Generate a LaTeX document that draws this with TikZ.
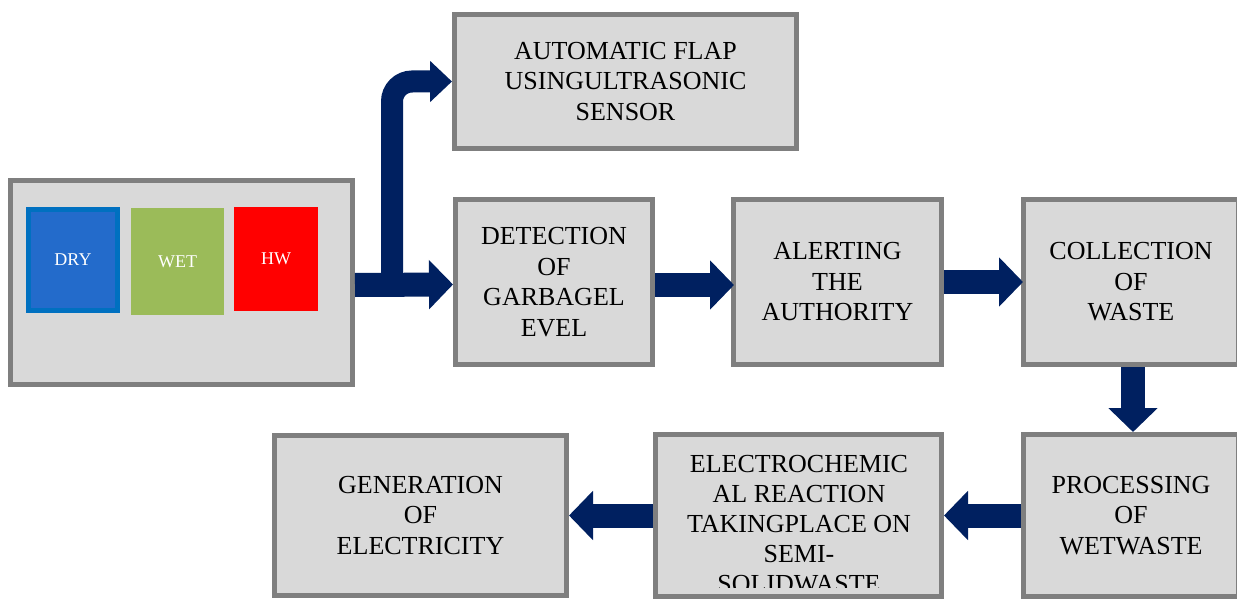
\documentclass[tikz,border=0pt]{standalone}
\usepackage{fontspec}
\setmainfont{Liberation Serif}
\usetikzlibrary{arrows.meta}
\definecolor{navy}{HTML}{002060}
\definecolor{boxgray}{HTML}{7F7F7F}
\definecolor{boxfill}{HTML}{D9D9D9}
\definecolor{dryblue}{HTML}{236BCB}
\definecolor{dryedge}{HTML}{0070C0}
\definecolor{wetgreen}{HTML}{9BBB59}
\begin{document}
\begin{tikzpicture}[x=1pt,y=-1pt,
  box/.style={draw=boxgray,fill=boxfill,line width=5pt,inner sep=0pt,align=center,
    font=\fontsize{26}{30.5}\selectfont},
  bigtext/.style={inner sep=0pt,align=center,font=\fontsize{26}{30}\selectfont},
  bin/.style={inner sep=0pt,text=white,font=\fontsize{18}{20}\selectfont},
  blk/.style={draw=navy,line width=24pt,-{Triangle[width=48pt,length=24pt]}},
  blkthin/.style={draw=navy,line width=22pt,-{Triangle[width=40pt,length=22pt]}}]
\useasboundingbox (0,0) rectangle (1237,599);
% boxes
\node[box,minimum width=342pt,minimum height=204pt] (src) at (181.5,282.5) {};
\node[box,minimum width=342pt,minimum height=134pt] (auto) at (625.5,81.5) {AUTOMATIC FLAP\\USINGULTRASONIC\\SENSOR};
\node[box,minimum width=197pt,minimum height=165pt] (det) at (554,282) {DETECTION\\OF\\GARBAGEL\\EVEL};
\node[box,minimum width=208pt,minimum height=165pt] (alert) at (837.5,282) {ALERTING\\THE\\AUTHORITY};
\node[box,minimum width=215pt,minimum height=165pt] (coll) at (1131,282) {COLLECTION\\OF\\WASTE};
\node[box,minimum width=215pt,minimum height=162pt] (proc) at (1131,515.5) {PROCESSING\\OF\\WETWASTE};
\node[box,minimum width=286pt,minimum height=162pt] (elec) at (798.5,515.5) {};
\node[box,minimum width=292pt,minimum height=160pt] (gen) at (420.5,515.5) {GENERATION\\OF\\ELECTRICITY};
\begin{scope}
\clip (655.5,434.5) rectangle (941.5,587);
\node[bigtext] (electext) at (799,524.4) {ELECTROCHEMIC\\AL REACTION\\TAKINGPLACE ON\\SEMI-\\SOLIDWASTE};
\end{scope}
% bins
\node[bin,draw=dryedge,fill=dryblue,line width=5pt,minimum width=89pt,minimum height=101pt] (dry) at (73,260) {DRY};
\node[bin,fill=wetgreen,minimum width=93pt,minimum height=107pt] (wet) at (177.5,261.5) {WET};
\node[bin,fill=red,minimum width=84pt,minimum height=104pt] (hw) at (276,259) {HW};
% arrows
\coordinate (branch) at (392,292);
\draw[blkthin,rounded corners=20pt] (branch) |- (auto.west);
\draw[blk] ([yshift=-2.5pt]src.east) -- ([yshift=-2.5pt]det.west);
\draw[blk] ([yshift=-3pt]det.east) -- ([yshift=-3pt,xshift=3pt]alert.west);
\draw[blk] (alert.east) -- ([xshift=2pt]coll.west);
\draw[blk] ([xshift=2pt]coll.south) -- ([xshift=2pt]proc.north);
\draw[blk] (proc.west) -- (elec.east);
\draw[blk] (elec.west) -- (gen.east);
\end{tikzpicture}
\end{document}
